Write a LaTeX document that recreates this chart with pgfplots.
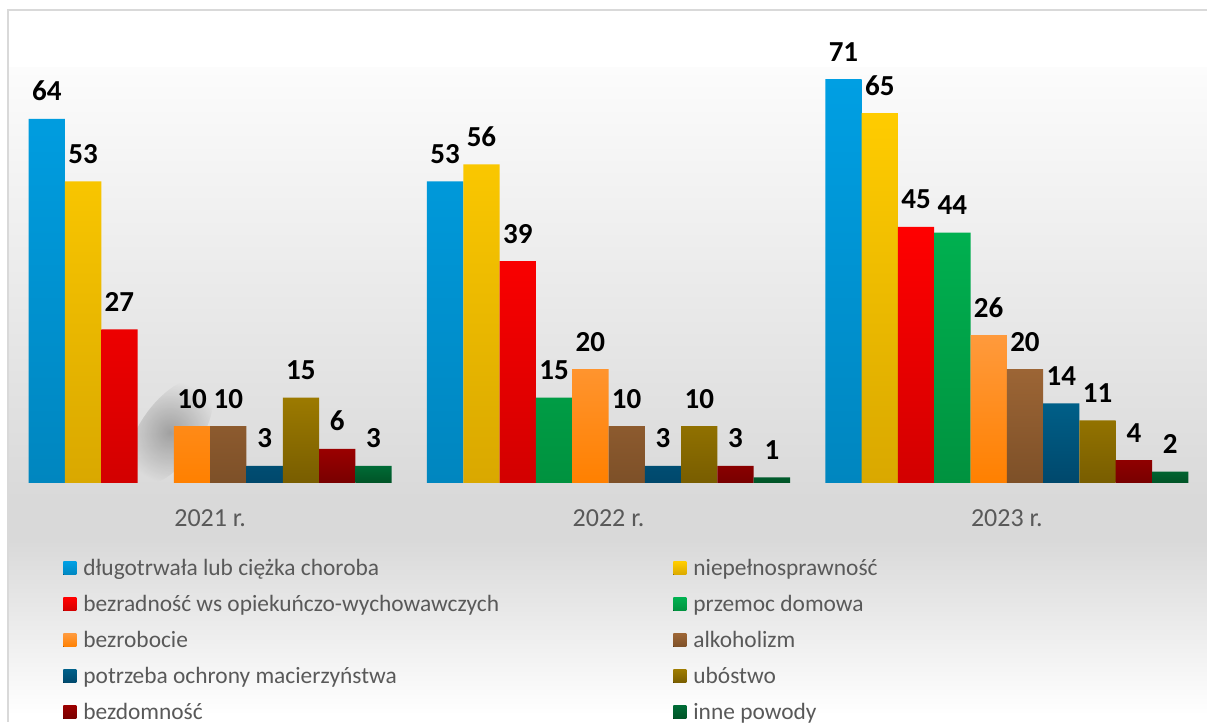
\documentclass[border=0pt]{standalone}
\usepackage{pgfplots}
\pgfplotsset{compat=1.18}
\usetikzlibrary{fadings}
\tikzfading[name=blob, inner color=transparent!0, outer color=transparent!100]
\usepackage{fontspec}
\setmainfont{Carlito}
\definecolor{bgtop}{HTML}{FCFCFC}
\definecolor{bgmid}{HTML}{D9D9D9}
\definecolor{bordergray}{HTML}{D9D9D9}
\definecolor{txtgray}{HTML}{595959}
\definecolor{c1t}{HTML}{009FE3}\definecolor{c1b}{HTML}{0086BF}
\definecolor{c2t}{HTML}{FFCC00}\definecolor{c2b}{HTML}{D9A800}
\definecolor{c3t}{HTML}{FF0000}\definecolor{c3b}{HTML}{D20000}
\definecolor{c4t}{HTML}{00B050}\definecolor{c4b}{HTML}{00923F}
\definecolor{c5t}{HTML}{FF9A3C}\definecolor{c5b}{HTML}{FF8000}
\definecolor{c6t}{HTML}{9C6535}\definecolor{c6b}{HTML}{7D5028}
\definecolor{c7t}{HTML}{005F88}\definecolor{c7b}{HTML}{00486C}
\definecolor{c8t}{HTML}{9C7A00}\definecolor{c8b}{HTML}{785D00}
\definecolor{c9t}{HTML}{9A0000}\definecolor{c9b}{HTML}{780000}
\definecolor{c10t}{HTML}{006B36}\definecolor{c10b}{HTML}{005326}
\newcommand\lgd[1]{\makebox[200pt][l]{\rule[-2.75pt]{0pt}{11.25pt}#1}}
\begin{document}
\begin{tikzpicture}
\begin{scope}[x=0.5pt,y=0.5pt]
\useasboundingbox (0,0) rectangle (1207,722);
\fill[white] (8,0) rectangle (1207,712);
\shade[top color=bgtop, bottom color=bgmid] (8,654) rectangle (1207,222);
\fill[bgmid] (8,222.5) rectangle (1207,181.5);
\shade[top color=bgmid, bottom color=white] (8,182) rectangle (1207,7);
\draw[bordergray, line width=1pt] (8,0) -- (8,712) -- (1207,712);
\fill[black, opacity=0.28, path fading=blob, fit fading=true, rotate around={55:(170,290)}] (170,290) ellipse (62 and 30);
\end{scope}
\begin{axis}[
  at={(5.5pt,119.5pt)}, anchor=south west,
  scale only axis, width=597.5pt, height=227.6pt,
  xmin=-0.5, xmax=2.5, ymin=0, ymax=80,
  clip=false,
  axis line style={draw=none},
  major tick length=0pt,
  ytick=\empty,
  xtick={0,1,2},
  xticklabels={2021 r., 2022 r., 2023 r.},
  xticklabel style={anchor=center, yshift=-17.5pt, text=txtgray, font=\fontsize{13}{15}\selectfont},
  ybar=0pt, bar width=18.15pt,
  nodes near coords={\pgfmathprintnumber[assume math mode=true]{\pgfplotspointmeta}},
  every node near coord/.append style={font=\bfseries\fontsize{14.5}{16}\selectfont, text=black, inner sep=0pt, anchor=south, yshift=8.7pt},
  legend columns=2,
  legend image code/.code={\fill[#1] (0pt,-3.25pt) rectangle (6.5pt,3.25pt);},
  legend cell align=left,
  legend style={at={(0.0435,-0.165)}, anchor=north west, draw=none, fill=none,
    inner sep=0pt, text=txtgray, font=\fontsize{11.7}{13}\selectfont,
    nodes={inner sep=0pt}, row sep=8pt,
    /tikz/every odd column/.append style={column sep=3.5pt},
    /tikz/every even column/.append style={column sep=95pt}},
]
\addplot[draw=none, top color=c1t, bottom color=c1b] coordinates {(0,64) (1,53) (2,71)};
\addlegendentry{\lgd{długotrwała lub ciężka choroba}}
\addplot[draw=none, top color=c2t, bottom color=c2b] coordinates {(0,53) (1,56) (2,65)};
\addlegendentry{\lgd{niepełnosprawność}}
\addplot[draw=none, top color=c3t, bottom color=c3b] coordinates {(0,27) (1,39) (2,45)};
\addlegendentry{\lgd{bezradność ws opiekuńczo-wychowawczych}}
\addplot[draw=none, top color=c4t, bottom color=c4b] coordinates {(1,15) (2,44)};
\addlegendentry{\lgd{przemoc domowa}}
\addplot[draw=none, top color=c5t, bottom color=c5b] coordinates {(0,10) (1,20) (2,26)};
\addlegendentry{\lgd{bezrobocie}}
\addplot[draw=none, top color=c6t, bottom color=c6b] coordinates {(0,10) (1,10) (2,20)};
\addlegendentry{\lgd{alkoholizm}}
\addplot[draw=none, top color=c7t, bottom color=c7b] coordinates {(0,3) (1,3) (2,14)};
\addlegendentry{\lgd{potrzeba ochrony macierzyństwa}}
\addplot[draw=none, top color=c8t, bottom color=c8b] coordinates {(0,15) (1,10) (2,11)};
\addlegendentry{\lgd{ubóstwo}}
\addplot[draw=none, top color=c9t, bottom color=c9b] coordinates {(0,6) (1,3) (2,4)};
\addlegendentry{\lgd{bezdomność}}
\addplot[draw=none, top color=c10t, bottom color=c10b] coordinates {(0,3) (1,1) (2,2)};
\addlegendentry{\lgd{inne powody}}
\end{axis}
\end{tikzpicture}
\end{document}
